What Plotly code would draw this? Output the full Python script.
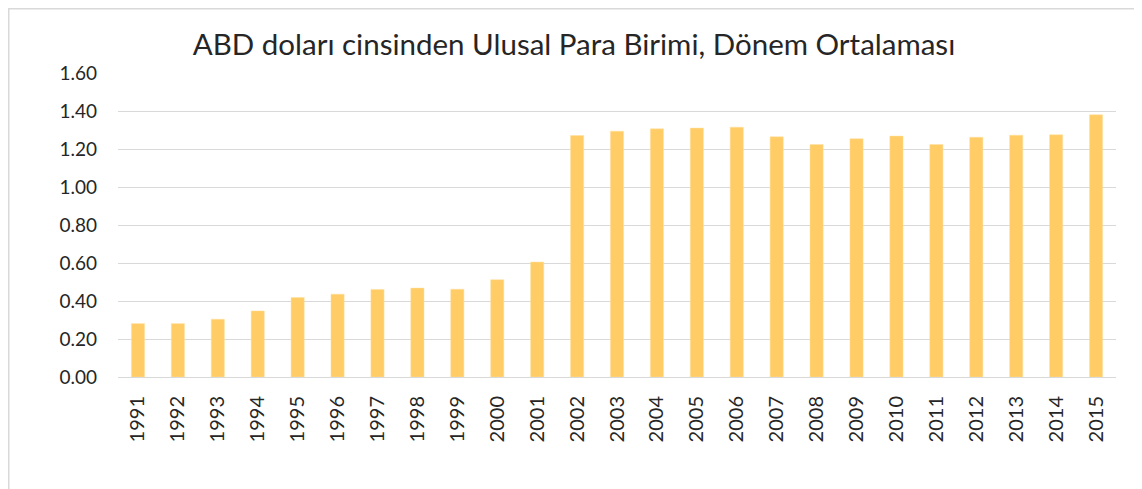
import plotly.graph_objects as go

years = [str(y) for y in range(1991, 2016)]
values = [0.281, 0.281, 0.304, 0.348, 0.418, 0.436, 0.461, 0.468, 0.462, 0.512,
          0.605, 1.271, 1.294, 1.306, 1.310, 1.315, 1.264, 1.224, 1.254, 1.268,
          1.224, 1.262, 1.273, 1.275, 1.380]
y_ticks = [0.0, 0.2, 0.4, 0.6, 0.8, 1.0, 1.2, 1.4, 1.6]
y_ticklabels = ["0.00", "0.20", "0.40", "0.60", "0.80", "1.00", "1.20", "1.40", "1.60"]
title_text = "ABD doları cinsinden Ulusal Para Birimi, Dönem Ortalaması"

# page body has an 8px default margin, so figure coordinates are offset by 8px
OFF = 8
W, H = 1142, 489
L, T = 118 - OFF, 73 - OFF
pw, ph = 998, 304
R, B = W - L - pw, H - T - ph

def px_x(p):
    return (p - L) / pw

def px_y(p):
    return (T + ph - p) / ph

fig = go.Figure(go.Bar(
    x=years, y=values,
    marker=dict(color="#FFCC66", line=dict(color="#FFE0A0", width=0.5)),
    width=0.33,
))

fig.update_layout(
    width=W, height=H,
    margin=dict(l=L, r=R, t=T, b=B, autoexpand=False),
    paper_bgcolor="white", plot_bgcolor="white",
    title=dict(text=title_text, x=(574 - OFF) / W, xref="container", xanchor="center",
               y=1 - (45 - OFF) / H, yref="container", yanchor="middle",
               font=dict(family="Lato", size=29.5, color="#262626")),
    font=dict(family="Lato", color="#262626"),
    showlegend=False,
    bargap=0.67,
    xaxis=dict(type="category", tickangle=-90, tickfont=dict(size=20, color="#262626"),
               showgrid=False, showline=True, linecolor="#D9D9D9", linewidth=1,
               ticks="", ticklen=0, automargin=False, ticklabelstandoff=10),
    yaxis=dict(range=[0, 1.6], tickvals=y_ticks, ticktext=y_ticklabels,
               tickfont=dict(size=19, color="#262626"),
               showgrid=True, gridcolor="#D9D9D9", gridwidth=1,
               zeroline=False, showline=False, ticks="", ticklabelstandoff=20,
               automargin=False),
    shapes=[dict(type="rect", xref="paper", yref="paper",
                 x0=px_x(0.75), x1=px_x(W + 20), y0=px_y(H + 20), y1=px_y(0.75),
                 line=dict(color="#D9D9D9", width=1.5), fillcolor="rgba(0,0,0,0)",
                 layer="below")],
)

fig.write_html("out.html")
